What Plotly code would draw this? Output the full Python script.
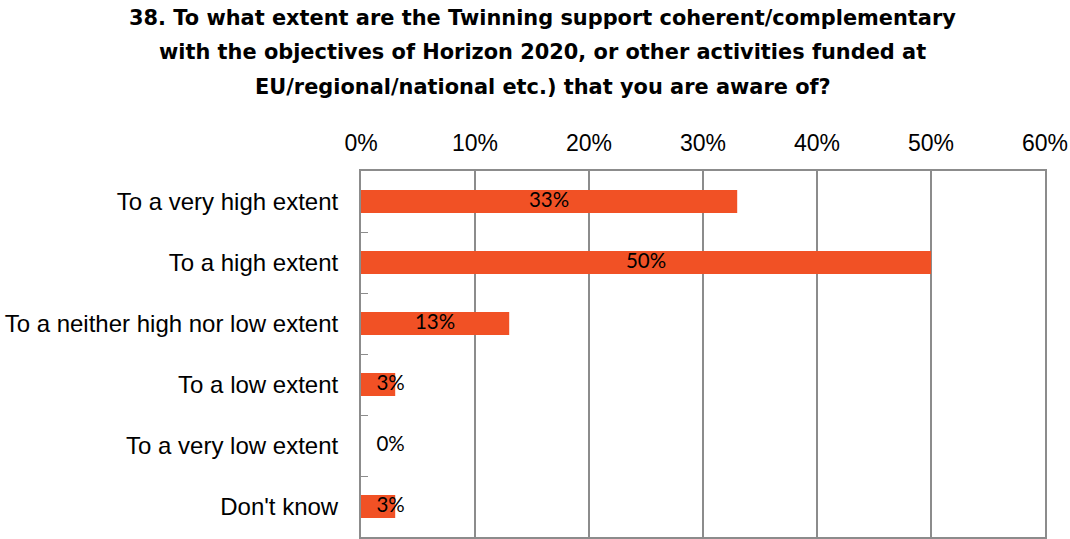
import plotly.graph_objects as go

categories = ["To a very high extent", "To a high extent", "To a neither high nor low extent",
              "To a low extent", "To a very low extent", "Don't know"]
values = [33, 50, 13, 3, 0, 3]
labels = ["33%", "50%", "13%", "3%", "0%", "3%"]
x_ticks = [0, 10, 20, 30, 40, 50, 60]
x_tick_labels = ["0%", "10%", "20%", "30%", "40%", "50%", "60%"]
title_lines = [
    "38. To what extent are the Twinning support coherent/complementary",
    "with the objectives of Horizon 2020, or other activities funded at",
    "EU/regional/national etc.) that you are aware of?",
]

label_x = [max(v / 2, 2.6) for v in values]

fig = go.Figure()
fig.add_trace(go.Bar(
    y=categories, x=values, orientation="h",
    marker=dict(color="#F15125", line=dict(width=0)),
    width=0.38, hoverinfo="skip",
))
fig.add_trace(go.Scatter(
    y=categories, x=label_x, mode="text", text=labels,
    textfont=dict(family="Lato, Carlito, sans-serif", size=20.5, color="#000000"),
    textposition="middle center", hoverinfo="skip", cliponaxis=False,
))

# plot area target in window: x 361..1045, y 171..537 (height 366)
title_y_px = [18, 52, 87]
annotations = []
for line, ypx in zip(title_lines, title_y_px):
    annotations.append(dict(
        text="<b>" + line + "</b>", x=0.266, xref="paper", xanchor="center",
        y=(537 - ypx) / 366, yref="paper", yanchor="middle", showarrow=False,
        font=dict(family="DejaVu Sans", size=20.9, color="#000000"),
    ))

fig.update_layout(
    width=1070, height=539,
    margin=dict(l=361, r=25, t=171, b=2, autoexpand=False),
    paper_bgcolor="white", plot_bgcolor="white",
    showlegend=False,
    annotations=annotations,
)
fig.update_xaxes(
    side="top", range=[0, 60], tickvals=x_ticks, ticktext=x_tick_labels,
    showgrid=True, gridcolor="#8C8C8C", gridwidth=1.5,
    showline=True, linecolor="#8C8C8C", linewidth=2, mirror=True,
    ticks="", zeroline=False, automargin=False, ticklabelstandoff=9,
    tickfont=dict(family="Liberation Sans, Arial", size=23, color="#000000"),
)
fig.update_yaxes(
    categoryorder="array", categoryarray=categories, autorange="reversed",
    showline=True, linecolor="#8C8C8C", linewidth=2, mirror=True,
    ticks="inside", tickson="boundaries", ticklen=7, tickcolor="#8C8C8C", tickwidth=1,
    showgrid=False, automargin=False,
    tickfont=dict(family="Liberation Sans, Arial", size=24, color="#000000"),
    ticklabelstandoff=16,
)

fig.write_html(
    "out.html",
    config={"displayModeBar": False},
    post_script="document.body.style.margin='0';document.body.style.overflow='hidden';",
)
